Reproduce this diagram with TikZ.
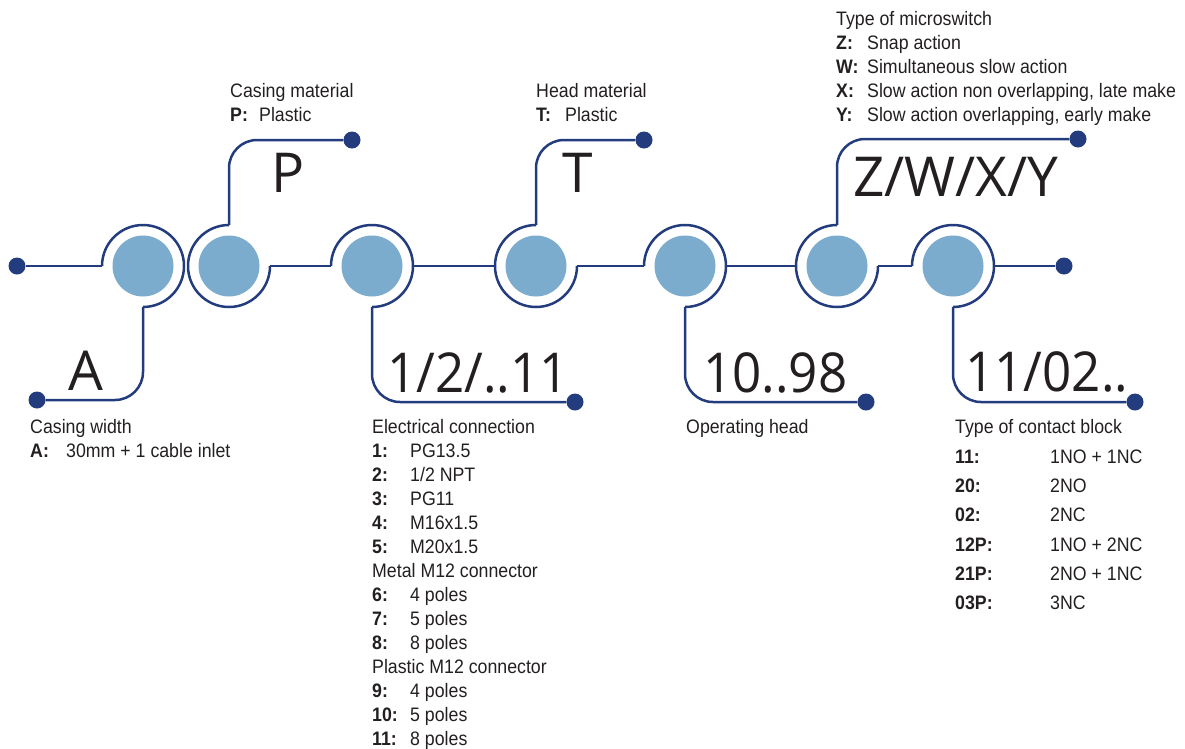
\documentclass[tikz,border=0pt]{standalone}
\usepackage{fontspec}
\setmainfont[FakeStretch=0.91]{Liberation Sans}
\newfontfamily\bigfont{Open Sans}
\newfontfamily\bignarrow[FakeStretch=0.93]{Open Sans}
\usetikzlibrary{calc}

\definecolor{navy}{HTML}{233C7D}
\definecolor{pale}{HTML}{7BACCE}
\definecolor{ink}{HTML}{231F20}

\begin{document}
\begin{tikzpicture}[x=1pt,y=1pt,
    wire/.style={draw=navy,line width=2.5pt},
    blob/.style={circle,fill=pale,minimum size=61pt,inner sep=0pt,outer sep=10.5pt},
    navydot/.style={circle,fill=navy,minimum size=17pt,inner sep=0pt},
    bigcode/.style={font=\bigfont\fontsize{55}{60}\selectfont,text=ink,anchor=base west,inner sep=0pt},
    bignum/.style={bigcode,font=\bignarrow\fontsize{55}{60}\selectfont},
    txt/.style={font=\fontsize{19.5}{24}\selectfont,text=ink,anchor=base west,inner sep=0pt},
    lbl/.style={txt,font=\fontsize{19.5}{24}\selectfont\bfseries}]

       \useasboundingbox (0,0) rectangle (1185,-748);

       %圆
       \foreach \n/\x in {1/143,2/229,3/372,4/536,5/685,6/837,7/953}  {
       	\node[blob] (c\n) at (\x,-266) {};
       }
       \foreach \n in {1,3,5,7}  {
       	\draw[wire] (c\n.south) arc [start angle=-90, end angle=180, radius=41];
       }
       \foreach \n in {2,4,6}  {
       	\draw[wire] (c\n.north) arc [start angle=90, end angle=360, radius=41];
       }

       \node[navydot] (d0) at (17,-266) {};
       \node[navydot] (d8) at (1064,-266) {};
       \node[navydot] (dA) at (37,-400) {};
       \node[navydot] (dP) at (352,-140) {};
       \node[navydot] (dE) at (575,-402) {};
       \node[navydot] (dT) at (644,-140) {};
       \node[navydot] (dH) at (866,-402) {};
       \node[navydot] (dZ) at (1078,-139) {};
       \node[navydot] (dK) at (1135,-402) {};

       \draw[wire] (d0) -- (c1.west);
       \foreach \a/\b in {2/3,3/4,4/5,5/6,6/7}  {
       	\draw[wire] (c\a.east) -- (c\b.west);
       }
       \draw[wire] (c7.east) -- (d8);

       \foreach \n/\d in {1/dA,3/dE,5/dH,7/dK}  {
       	\draw[wire,rounded corners=28pt] (c\n.south) |- (\d);
       }
       \foreach \n/\d in {2/dP,4/dT,6/dZ}  {
       	\draw[wire,rounded corners=28pt] (c\n.north) |- (\d);
       }

       \node[bigcode] (bA) at (68,-390) {A};
       \node[bigcode] (bP) at (271,-192) {P};
       \node[bignum] (bE) at (387,-392) {1/2/..11};
       \node[bigcode] (bT) at (562,-192) {T};
       \node[bignum] (bH) at (703,-392) {10..98};
       \node[bigcode] (bZ) at (853,-196) {Z/W/X/Y};
       \node[bignum] (bK) at (965,-391) {11/02..};

       %上
       \node[txt] (hP) at (230,-97) {Casing material};
       \node[lbl] (kP) at (230,-121) {P:};
       \node[txt] (vP) at (259,-121) {Plastic};
       \node[txt] (hT) at (536,-97) {Head material};
       \node[lbl] (kT) at (536,-121) {T:};
       \node[txt] (vT) at (565,-121) {Plastic};
       \node[txt] (hZ) at (836,-25) {Type of microswitch};
       \foreach \k/\v [count=\i] in {Z/Snap action, W/Simultaneous slow action,
       	X/{Slow action non overlapping, late make}, Y/{Slow action overlapping, early make}}  {
       	\node[lbl] (kZ\i) at (836,{-25-24*\i}) {\k:};
       	\node[txt] (vZ\i) at (867,{-25-24*\i}) {\v};
       }

       %下
       \node[txt] (hA) at (30,-433) {Casing width};
       \node[lbl] (kA) at (30,-457) {A:};
       \node[txt] (vA) at (66,-457) {30mm + 1 cable inlet};
       \node[txt] (hH) at (686,-433) {Operating head};

       \node[txt] (hE) at (372,-433) {Electrical connection};
       \foreach \k/\v/\y in {1/PG13.5/457, 2/{1/2 NPT}/481, 3/PG11/505, 4/M16x1.5/529,
       	5/M20x1.5/553, 6/4 poles/601, 7/5 poles/625, 8/8 poles/649,
       	9/4 poles/697, 10/5 poles/721, 11/8 poles/745}  {
       	\node[lbl] (kE\k) at (372,-\y) {\k:};
       	\node[txt] (vE\k) at (410,-\y) {\v};
       }
       \node[txt] (mE) at (372,-577) {Metal M12 connector};
       \node[txt] (pE) at (372,-673) {Plastic M12 connector};

       \node[txt] (hK) at (955,-433) {Type of contact block};
       \foreach \k/\v/\y in {11/1NO + 1NC/463, 20/2NO/492, 02/2NC/521,
       	12P/1NO + 2NC/551, 21P/2NO + 1NC/580, 03P/3NC/609}  {
       	\node[lbl] (kK\k) at (955,-\y) {\k:};
       	\node[txt] (vK\k) at (1050,-\y) {\v};
       }

\end{tikzpicture}
\end{document}
